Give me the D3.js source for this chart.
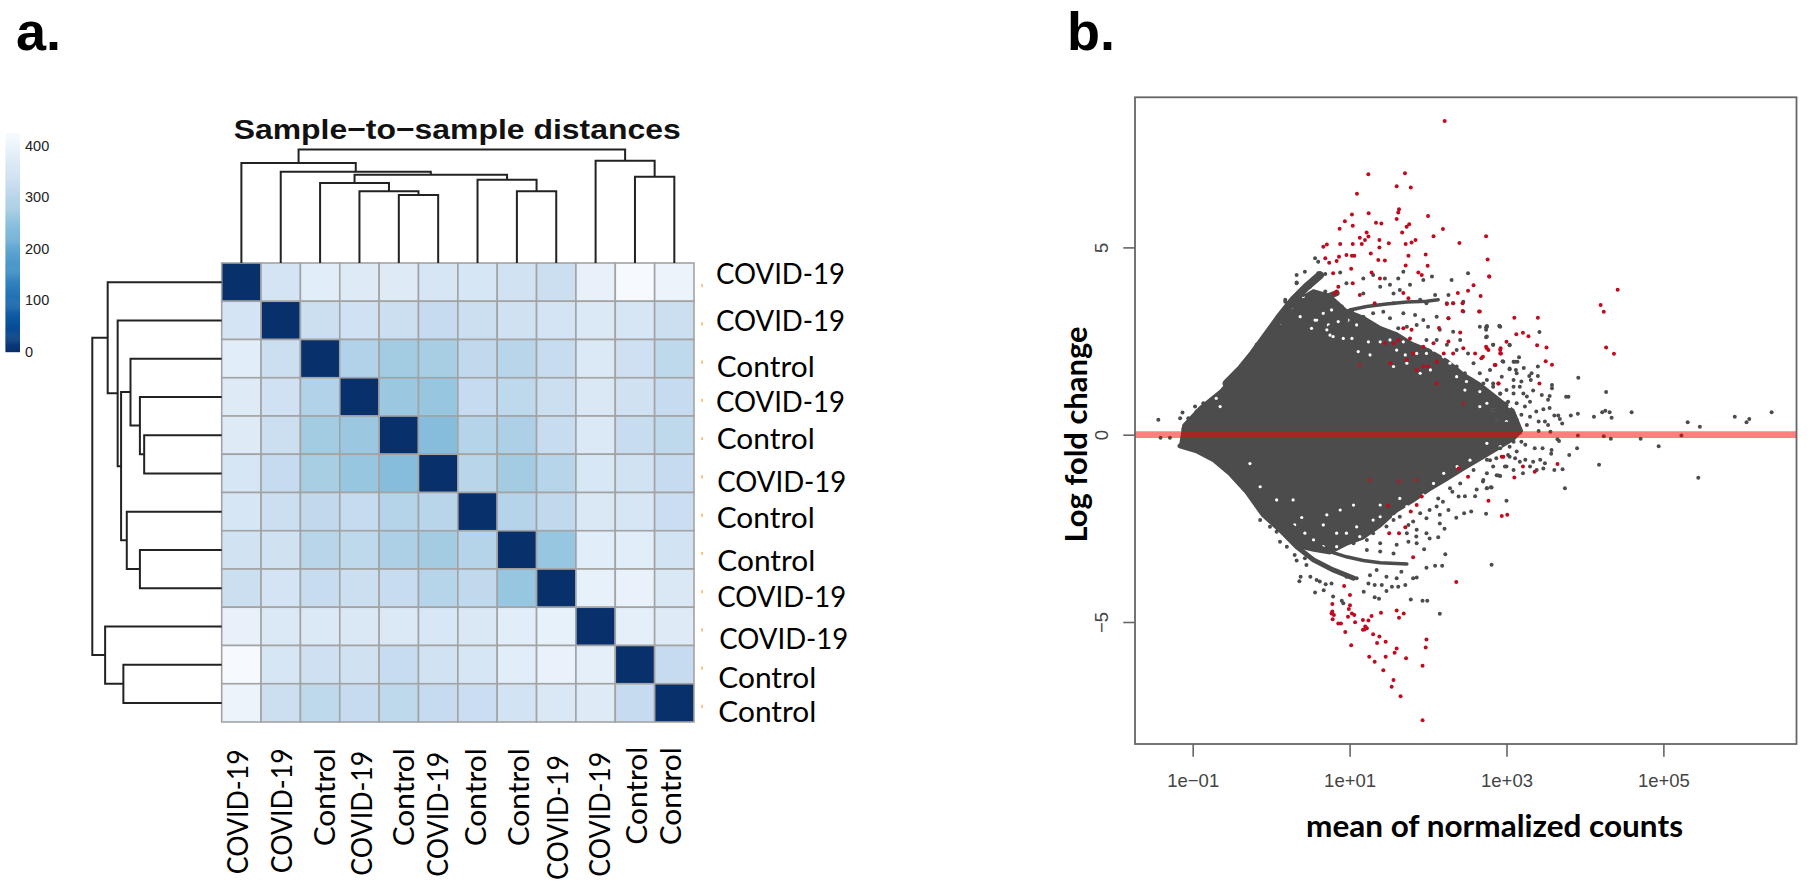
<!DOCTYPE html>
<html><head><meta charset="utf-8"><style>html,body{margin:0;background:#fff}svg{display:block}</style>
<script src="https://cdn.jsdelivr.net/npm/d3@7/dist/d3.min.js"></script></head><body><svg id="c" width="1810" height="889"></svg>
<script>
// ---------- Panel a data ----------
const title = "Sample\u2212to\u2212sample distances";
const colLabels = ["COVID-19","COVID-19","Control","COVID-19","Control","COVID-19","Control","Control","COVID-19","COVID-19","Control","Control"];
const rowLabels = colLabels;
const legendTicks = [0,100,200,300,400];
const legendMax = 424;
const blues = ["#08306B","#08519C","#2171B5","#4292C6","#6BAED6","#9ECAE1","#C6DBEF","#DEEBF7","#F7FBFF"];
const distances = [
[0,348,378,370,372,355,355,342,330,392,422,398],
[348,0,330,338,332,318,332,340,348,365,355,330],
[378,330,0,290,270,278,312,300,320,365,335,308],
[370,338,290,0,262,258,318,308,332,362,340,318],
[372,332,270,262,0,240,295,285,322,365,322,308],
[355,318,278,258,240,0,300,272,298,358,342,318],
[355,332,312,318,295,300,0,295,312,362,355,328],
[342,340,300,308,285,272,295,0,258,378,378,345],
[330,348,320,332,322,298,312,258,0,390,395,362],
[392,365,365,362,365,358,362,378,390,0,385,372],
[422,355,335,340,322,342,355,378,395,385,0,318],
[398,330,308,318,308,318,328,345,362,372,318,0]];
// dendrogram: [height, childA, childB]; a bare number is a leaf index
const dendro = [454,
  [400, 0, [365, 1, [353,
     [320, 2, [287, 3, [272, 4, 5]]],
     [333, 6, [287, 7, 8]]]]],
  [409, 9, [345, 10, 11]]];

// ---------- Panel b data (log10 mean, log fold change) ----------
const xTickValues = [0.1,10,1000,100000];
const xTickLabels = ["1e\u221201","1e+01","1e+03","1e+05"];
const yTickValues = [-5,0,5];
// outer edge of the overplotted grey mass
const massOutline = [[-1.12,.26],[-.906,.74],[-.65,1.17],[-.397,1.78],[-.18,2.34],[.024,2.98],[.113,3.11],[.325,3.6],[.54,3.86],[.75,3.73],[.96,3.33],[1.175,3.15],[1.39,2.88],[1.6,2.71],[1.81,2.44],[2.025,2.26],[2.24,2],[2.45,1.64],[2.66,1.37],[2.875,1.02],[3.09,.66],[3.2,.1],
[3.09,-.14],[2.875,-.41],[2.66,-.68],[2.45,-.94],[2.24,-1.21],[2.025,-1.48],[1.81,-1.79],[1.6,-2.055],[1.39,-2.455],[1.175,-2.77],[.96,-2.94],[.75,-3.17],[.54,-3.1],[.325,-2.99],[.113,-2.54],[-.1,-2.14],[-.312,-1.52],[-.525,-1.03],[-.737,-.66],[-.95,-.43],[-1.162,-.3]];
// gaps seen inside the mass
const massGaps = [[.665,3.24],[.77,3.33],[.855,3.02],[.73,2.93],[.56,3.06],[.515,2.84],[.98,3.06],[1.09,2.93],[.75,2.66],[.92,2.57],[1.03,2.57],[1.11,2.22],[1.26,2.13],[1.24,2.48],[1.39,2.48],[1.515,2.53],[1.685,2.48],[1.6,2.26],[1.71,2.13],[1.855,2.17],[1.98,2.17],[2.07,2.26],[1.9,2.48],[1.56,1.82],[1.73,1.91],[1.9,1.64],[2.03,1.73],[2.195,2.08],[2.28,1.91],[2.365,1.55],[2.49,1.42],[2.66,1.15],[2.83,.66],[3.04,.75],[2.75,.84],[2.875,.39],[3,.35],[2.66,.75],[2.47,1.19],
[.58,3.06],[.71,2.8],[.79,2.62],[.54,3.51],[.41,3.69],[.28,3.33],[.37,3.15],[.11,2.97],[-.14,2.35],[-.65,.75],[-.7,.97],
[.39,-2.21],[.3,-2.41],[.43,-2.63],[.54,-2.81],[.665,-2.99],[.835,-2.99],[.665,-2.41],[.835,-2.63],[.96,-2.63],[1.13,-2.72],[1.09,-2.46],[1.3,-2.28],[1.39,-2.19],[1.47,-2.55],[1.56,-2.19],[1.73,-1.92],[1.64,-1.7],[1.94,-1.61],[2.07,-1.3],[2.2,-1.03],[2.37,-.85],[2.535,-.68],[2.75,-.23],[2.92,-.32],[.88,-2.01],[1.05,-1.88],[.71,-2.14],[.28,-1.74],[.07,-1.74],[-.14,-1.39],[-.27,-.77],[1.39,-1.88]];
const ridgeUpperOuter = [[-.567,1.37],[-.397,1.73],[-.227,2.17],[-.057,2.66],[.113,3.15],[.283,3.6],[.453,3.95],[.623,4.26]];
const ridgeUpperInner = [[.028,2.89],[.24,3.24],[.453,3.46],[.665,3.64],[.835,3.78]];
const ridgeUpperLong = [[.79,3.06],[1.005,3.33],[1.217,3.42],[1.47,3.49],[1.73,3.54],[1.98,3.56],[2.13,3.6]];
const ridgeLowerLong = [[.283,-2.455],[.45,-2.81],[.62,-2.99],[.75,-3.12],[.96,-3.26],[1.175,-3.36],[1.39,-3.42],[1.73,-3.45]];
const ridgeLowerOuter = [[-1.162,-.3],[-.95,-.43],[-.737,-.66],[-.525,-1.03],[-.312,-1.52],[-.1,-2.14],[.113,-2.54],[.325,-2.99],[.54,-3.345],[.79,-3.61],[1.05,-3.83]];
const grayPoints = [
[3.915,1.52],[4.27,1.14],[3.76,1.01],[3.79,1.01],[3.82,.51],[3.91,.56],[4.115,.48],[4.22,.6],[4.26,.64],[4.315,.6],[4.34,.45],[4.595,.6],[5.31,.33],[5.465,.215],[5.91,.48],[6.06,.33],[6.095,.42],[6.38,.6],[3.91,-.02],[4.24,-.04],[4.33,-.11],[4.71,-.105],[4.94,-.31],[5.23,-.02],[3.9,-.36],[3.8,-.54],[4.18,-.8],[3.715,-.92],[5.445,-1.15],[3.745,-1.43],
[2.91,2.9],[3.42,2.74],[2.74,2.87],[2.74,2.8],[2.74,2.6],[2.83,2.4],[3.04,2.39],[3.16,2.07],[3.09,1.95],[3.14,1.95],[2.95,1.96],[3.22,1.78],[3.4,1.82],[3.04,1.75],[3.12,1.73],[3.4,1.57],[3.32,1.64],[3.29,1.57],[3.31,1.46],[3.58,1.33],[3.58,1.24],[3.09,1.46],[3.19,1.42],[3.55,1.03],[3.53,.93],[3.45,1.06],[3.34,1.18],[3.55,.71],[3.47,.68],[3.38,.62],[3.26,1.02],[3.61,.51],[3.66,.51],[3.68,.42],[3.71,.3],[3.49,.35],[3.53,.26],[3.56,.08],[3.41,.1],[3.65,-.12],[3.67,-.17],[3.575,-.41],[3.57,-.51],[3.46,-.36],[3.36,-.36],[3.24,-.27],[3.61,-.94],
[3.49,-.76],[3.43,-.67],[3.34,-.72],[3.3,-.85],[3.24,-.67],[3.17,-.72],[3.11,-.63],[3.04,-.59],[3.47,-.9],[3.385,-.94],[3.09,-.94],[3,-.85],[2.92,-1.1],[3.21,-1.03],
[.325,4.26],[.43,4.35],[.69,4.29],[.6,4.31],[.88,4.33],[.54,4.09],[.325,4.04],[.495,3.95],[.69,3.82],[.41,3.73],[.28,3.51],[.18,3.55],[.54,3.55],[.75,3.55],[.96,4.04],[1.175,4.17],[1.3,4.26],[1.45,4.17],[1.62,4.17],[1.515,4],[1.685,4.35],[1.77,4],[1.94,4.13],[2.05,4.22],[2.3,4.13],[2.51,4.31],[2.26,3.73],[2.09,3.73],[2.24,3.51],[2.32,3.51],[2.45,3.55],[2.26,3.11],[2.11,3.15],[2.45,3.29],[2.66,2.885],[2.75,2.885],[2.75,2.62],[2.92,2.885],[2.83,2.4],[3.04,2.4],[2.96,1.95],[3.11,1.95],[3.04,1.77],[2.94,1.55],[3.13,1.64],
[1.175,3.77],[1.39,3.95],[1.56,3.77],[1.64,3.86],[1.9,3.6],[1.98,3.51],[1.56,3.51],[1.43,3.285],[1.3,3.24],[1.175,3.15],[1.03,3.29],[.9,3.42],[.835,3.285],[.71,3.24],[.58,3.15],[.47,3.06],[.96,3.06],[1.13,2.93],[1.26,2.97],[1.39,2.84],[1.515,3.11],[1.685,3.24],[1.835,3.195],[1.94,3.06],[2,2.885],[2.15,2.8],[2.32,2.75],[2.41,2.53],[1.855,2.93],[1.73,2.885],[1.62,2.84],[1.47,2.66],[1.345,2.57],[1.175,2.71],[1.03,2.75],[.9,2.885],[.75,2.885],[.62,2.84],[1.98,2.53],[2.11,2.53],[2.24,2.4],[2.365,2.26],[2.51,2.17],[2.58,1.91],[2.66,1.64],[2.79,1.73],[2.365,1.82],[2.47,1.64],[2.56,1.46],[2.705,1.37],[2.83,1.37],[2.92,1.1],[3.09,1.28],[3,.84],[2.83,.93],[2.66,1.02],[2.75,.57],[2.92,.48],[3.04,.57],[3.13,.39],[2.58,1.19],[2.49,.97],[2.535,.66],[2.66,.3],[2.83,.215],[3,.215],[1.9,2.26],[2.03,1.99],[2.15,1.82],[2.28,1.64],[1.81,1.99],[1.64,1.82],[1.56,2.17],[1.43,2.04],[1.345,2.26],[1.22,2.08],[1.09,2.48],[.96,2.62],[.835,2.71],[.665,2.66],
[2.75,1.46],[2.83,1.28],[2.92,1.09],[3,1.19],[3.09,1.1],[3.17,1.28],[3.215,1.1],[2.92,.84],[3.02,.88],[3.13,.84],[3.235,.75],[3.3,.88],[2.83,.66],[2.96,.57],[3.09,.57],[3.19,.53],[3.3,.48],[2.875,.39],[3,.3],[3.13,.35],[3.26,.26],[3.41,.35],[2.92,.17],[3.07,.13],[3.17,.05],[2.83,-.14],[2.96,-.1],[3.09,-.19],[3.19,-.19],[2.79,-.41],[2.92,-.36],[3.04,-.32],[3.13,-.45],[2.75,-.67],[2.87,-.63],[2.83,-.85],[2.75,-1.03],[2.875,-1.08],[2.705,-1.21],[2.8,-1.4],[2.75,-1.43],
[-1.438,.4],[-1.41,-.08],[-1.29,-.08],[-1.16,.44],[-1.13,.59],[-1.056,.44],[-.99,.44],[-1.12,.15],[-1.056,.15],[-.97,.75],[-.95,.62],[-.865,.84],[-.82,.66],[-.99,-.05],[-.95,-.02],[-.91,.22],[-.82,.3],[-.546,1.46],[-.44,1.69],[-.355,1.91],[-.185,2.4],[-.12,2.31],[.18,3.6],[.325,4.06],[.56,4.71],[.6,4.62],[2.75,2.9],[2.91,2.9],
[2.81,-3.47],[2.15,-4.78],[1.78,-4.4],[1.93,-4.43],[1.99,-4.43],[1.32,-4.34],[1.375,-4.38],[2.09,-3.5],[2.18,-3.5],[1.98,-3.55],[1.81,-3.83],[1.855,-3.81],[2.22,-3.19],[2.21,-2.51],[2.15,-2.37],[2.13,-2.74],[2.02,-2.77],[1.98,-2.63],[1.95,-3.06],[1.855,-2.9],[1.85,-2.72],[1.75,-2.86],[1.855,-2.54],[1.98,-2.23],[2.15,-2.14],[2.36,-2.22],[2.46,-2.1],[2.55,-2.05],[2.74,-2.11],[3,-1.76],[2.26,-2.01],[2.6,-1.64],[2.47,-1.64],[2.75,-1.43],[2.81,-1.41],[2.62,-1.46],[2.39,-1.65],[2.28,-1.43],[2.13,-1.7],[2.9,-1.09],[2.7,-1.25],
[.376,-3.79],[.36,-3.91],[.5,-3.79],[.58,-3.88],[.62,-3.92],[.56,-4.21],[.67,-4.15],[.695,-3.99],[.77,-3.97],[.79,-4.32],[.92,-4.5],[.9,-4.43],[1.18,-4.19],[1.41,-4.01],[1.47,-4.17],[1.54,-4.06],[1.62,-4.06],[1.71,-4.01],[1.32,-4.01],[1.24,-3.97],[.96,-3.79],[1.09,-3.83],[1.26,-3.75],[1.47,-3.79],[1.6,-3.83],[1.66,-3.66],[1.345,-3.61],[.325,-3.36],[.45,-3.48],[.2,-2.99],[.113,-2.86],[-.015,-2.455],[-.14,-2.28],[.07,-2.59],[.3,-3.21],[.43,-3.3],
[1.22,-2.81],[1.39,-2.9],[1.05,-2.9],[.88,-2.72],[.71,-2.63],[1.13,-2.54],[1.3,-2.63],[1.47,-2.45],[1.6,-2.94],[1.56,-3.17],[1.39,-3.12],[1.22,-3.08],[1.73,-2.63],[1.75,-2.41],[1.64,-2.19],[1.56,-2.28],[1.47,-2.1],[1.39,-1.97],[1.81,-2.32],[1.9,-2.1],[2.02,-2.01],[2.11,-1.92],[2.19,-1.79],[2.31,-1.52],[2.41,-1.3],[2.58,-.94],[2.79,-.68],[2.98,-.85],[3.02,-.54]];
const redPoints = [
[4.417,3.87],[4.2,3.46],[4.24,3.28],[4.27,2.33],[4.37,2.16],[2.78,4.22],[3.1,3.12],[3.4,3.12],[3.125,2.68],[3.21,2.72],[3.28,2.63],[3,2.48],[3.39,2.39],[3.51,2.33],[3.5,1.96],[3.58,1.87],[2.925,2.31],[2.92,2.17],[2.74,2.35],[2.77,2.26],[2.86,1.86],[2.895,1.37],[3.42,1.37],[2.66,3.29],[2.68,2.04],[3.65,-.78],[3.21,-.85],[2.96,-.59],[3.1,-1.14],[3.36,-.99],
[2.212,8.375],[1.239,6.95],[1.706,6.98],[1.6,6.63],[1.78,6.6],[1.094,6.43],[1.63,6.02],[1.62,5.93],[1.6,5.76],[1.243,5.91],[1.03,5.875],[2,5.84],[.94,5.7],[1.04,5.58],[1.337,5.66],[1.405,5.64],[.873,5.5],[1.67,5.4],[1.727,5.55],[1.76,5.62],[2.19,5.49],[2.74,5.3],[1.24,5.29],[1.196,5.2],[1.155,5.09],[1.13,5.26],[1.217,5.4],[1.38,5.2],[1.38,5],[1.5,5.11],[1.715,5.09],[1.79,5.13],[1.84,5.2],[2.07,5.3],[2.4,5.12],[.665,5.02],[.71,5.08],[.88,5.09],[1.04,5.09],[.69,4.71],[.74,4.59],[.79,4.31],[.835,4.64],[.865,4.75],[.96,4.8],[1.03,4.78],[1.06,4.78],[1.27,4.84],[1.366,4.665],[1.45,4.65],[1.02,4.43],[1.75,4.78],[1.715,4.52],[1.97,4.81],[1.995,4.51],[2.76,4.68],[2.78,4.22],[1.876,4.33],[1.92,4.26],[1.28,4.33],[.856,3.95],[.835,3.82],[.81,3.76],[1.04,4.04],[1.387,4.17],[2.58,3.99],[2.51,3.84],[2.38,3.78],[2.67,3.7],[2.44,3.51],[2.44,3.3],[2.65,3.29],[2.32,3.51],[2.24,3.49],[1.13,3.73],[1.32,3.51],[1.685,3.78],[1.75,3.64],[2.26,3.11],[2.14,2.85],[2.41,2.73],[1.62,2.53],[1.685,2.84],[1.79,2.8],[1.77,2.57],[1.56,2.44],[1.94,2.35],[2.07,2.44],[2.26,2.49],[2.32,2.17],[2.45,2.31],[2.6,2.17],[2.75,2.31],[2.7,2.08],[2.92,2.26],[2.93,2.17],[2.85,1.86],[2.9,1.37],[1.81,2.17],[1.73,2],[1.52,1.91],[1.45,2.44],[2.11,1.95],[1.94,1.82],[1.855,1.73],[2,1.82],[2.2,2.17],[2.11,1.37],
[1.93,-7.62],[1.65,-6.98],[1.536,-6.73],[1.56,-6.55],[1.43,-6.29],[1.93,-6.17],[1.72,-5.97],[1.25,-5.93],[1.32,-6.06],[1.46,-5.93],[1.574,-5.82],[1.6,-5.71],[1.02,-5.62],[1.97,-5.68],[1.98,-5.47],[1.35,-5.56],[1.46,-5.53],[1.38,-5.39],[1.3,-5.33],[.945,-5.27],[1.19,-5.2],[1.22,-5.17],[1.17,-5.21],[1.2,-5.12],[.856,-5.04],[.89,-5.04],[.784,-4.93],[.77,-4.77],[.8,-4.81],[.78,-4.72],[1.07,-5.01],[1.17,-4.95],[1.24,-4.96],[1.28,-4.84],[.98,-4.86],[1.03,-4.77],[1.06,-4.81],[1.005,-4.55],[.99,-4.65],[.78,-4.52],[1.005,-4.28],[.93,-4.04],[1.4,-4.75],[1.6,-4.69],[1.69,-4.77],[1.63,-4.89],[2.36,-3.93],[1.81,-3.27],[2.77,-1.76],[2.94,-2.17],[3.01,-2.135],
[1.49,-1.9],[1.78,-2.05],[1.855,-1.88],[1.92,-1.65],[1.505,-2.63],[1.63,-2.63],[1.71,-2.47],[2.39,-.9],[2.51,-1.12],[2.94,-.59]];
const fadedRedPoints = [[1.13,1.86],[2.45,.84],[1.26,-1.21],[1.63,-1.25],[1.855,-1.21]];

// ---------- Layout ----------
const svg = d3.select("#c");
const heat = {l:221.7,r:694,t:263,b:722};
const rowLabelY = [274,320.7,366.7,402.3,439.3,481.7,518.3,560.7,596.7,639.3,678.3,711.7];
const rowLabelX = [716,716,716.7,716,716.7,717.3,716.7,717.3,717.3,719.3,718.3,718.3];
const colLabelX = [238.3,281.7,325,361.7,404.3,438.3,475.7,519,558.3,600,636.7,670.7];
const colLabelTop = [749.3,748.3,748.3,750.7,748.3,751.7,748.3,748.3,755,751.7,746.7,747.3];
const LATO = "Lato, 'Noto Sans', sans-serif", ARIAL = "'Liberation Sans', Arial, sans-serif";

svg.append("text").attr("x",16).attr("y",50).attr("font-family",ARIAL).attr("font-weight",700).attr("font-size",54).text("a.");
svg.append("text").attr("x",1067).attr("y",50).attr("font-family",ARIAL).attr("font-weight",700).attr("font-size",54).text("b.");

const color = d3.scaleLinear().domain(blues.map((_,i)=>i*legendMax/(blues.length-1))).range(blues);
const xB = d3.scaleBand().domain(d3.range(colLabels.length)).range([heat.l,heat.r]);
const yB = d3.scaleBand().domain(d3.range(rowLabels.length)).range([heat.t,heat.b]);
const g = svg.append("g");
distances.forEach((row,i)=>g.selectAll(null).data(row).join("rect")
  .attr("x",(_,j)=>xB(j)).attr("y",yB(i)).attr("width",xB.bandwidth()).attr("height",yB.bandwidth())
  .attr("fill",d=>color(d)).attr("stroke","#a3a3a3").attr("stroke-width",1.6));

const legY = d3.scaleLinear().domain([0,legendMax]).range([351.7,133]);
svg.append("g").selectAll("rect").data(d3.range(0,legendMax,2)).join("rect")
  .attr("x",5.5).attr("width",14.5).attr("y",d=>legY(d+2)).attr("height",Math.abs(legY(0)-legY(2))+.5).attr("fill",d=>color(d));
svg.append("g").selectAll("text").data(legendTicks).join("text")
  .attr("x",25).attr("y",d=>legY(d)).attr("dy","0.36em").attr("font-family",ARIAL).attr("font-size",14.5).attr("fill","#222").text(d=>d);

svg.append("text").attr("x",233.7).attr("y",139).attr("font-family",ARIAL).attr("font-weight",700).attr("font-size",28)
  .attr("textLength",447).attr("lengthAdjust","spacingAndGlyphs").attr("fill","#111").text(title);

const hTop = d3.scaleLinear().domain([0,dendro[0]]).range([heat.t,149.5]);
const hLeft = d3.scaleLinear().domain([0,dendro[0]]).range([heat.l,92.3]);
function layout(node,pos,out){
  if(typeof node==="number") return {p:pos(node),h:0};
  const a=layout(node[1],pos,out), b=layout(node[2],pos,out);
  out.push({a,b,h:node[0]});
  return {p:(a.p+b.p)/2,h:node[0]};
}
const linksTop=[]; layout(dendro,i=>xB(i)+xB.bandwidth()/2,linksTop);
const linksLeft=[]; layout(dendro,i=>yB(i)+yB.bandwidth()/2,linksLeft);
svg.append("g").selectAll("path").data(linksTop).join("path").attr("fill","none").attr("stroke","#222").attr("stroke-width",2)
  .attr("d",d=>`M${d.a.p},${hTop(d.a.h)}V${hTop(d.h)}H${d.b.p}V${hTop(d.b.h)}`);
svg.append("g").selectAll("path").data(linksLeft).join("path").attr("fill","none").attr("stroke","#222").attr("stroke-width",2)
  .attr("d",d=>`M${hLeft(d.a.h)},${d.a.p}H${hLeft(d.h)}V${d.b.p}H${hLeft(d.b.h)}`);

svg.append("g").selectAll("text").data(rowLabels).join("text")
  .attr("x",(_,i)=>rowLabelX[i]).attr("y",(_,i)=>rowLabelY[i]).attr("dy","0.36em").attr("font-family",LATO).attr("font-size",28)
  .attr("fill","#000").attr("textLength",d=>d==="Control"?98:129).attr("lengthAdjust","spacingAndGlyphs").text(d=>d);
svg.append("g").selectAll("text").data(colLabels).join("text")
  .attr("transform",(_,i)=>`translate(${colLabelX[i]},${colLabelTop[i]}) rotate(-90)`).attr("text-anchor","end").attr("dy","0.36em")
  .attr("font-family",LATO).attr("font-size",28).attr("fill","#000").attr("textLength",d=>d==="Control"?98:125).attr("lengthAdjust","spacingAndGlyphs").text(d=>d);
svg.append("g").selectAll("rect").data(rowLabels).join("rect")
  .attr("x",701.5).attr("y",(_,i)=>yB(i)+yB.bandwidth()/2+2).attr("width",1.2).attr("height",3).attr("fill","#f39a2e");

// ---------- Panel b ----------
const plot = {l:1135,r:1796.5,t:97.3,b:744};
const x = d3.scaleLog().domain([Math.pow(10,-1.7355),Math.pow(10,6.697)]).range([plot.l,plot.r]);
const y = d3.scaleLinear().domain([-8.257,9.007]).range([plot.b,plot.t]);
const px = d=>x(Math.pow(10,d[0])), py = d=>y(d[1]);
const GRAY="#4c4c4c";
const line = d3.line().x(px).y(py);
const pg = svg.append("g");
pg.append("path").attr("d",line(massOutline)+"Z").attr("fill",GRAY).attr("stroke",GRAY).attr("stroke-width",2).attr("stroke-linejoin","round");
pg.append("g").selectAll("circle").data(massGaps).join("circle").attr("cx",px).attr("cy",py).attr("r",1.6).attr("fill","#fff");
[[ridgeUpperOuter,8],[ridgeUpperInner,6],[ridgeUpperLong,3.5],[ridgeLowerLong,3.5],[ridgeLowerOuter,5]].forEach(([r,w])=>
  pg.append("path").attr("d",line(r)).attr("fill","none").attr("stroke",GRAY).attr("stroke-width",w).attr("stroke-linecap","round"));
pg.append("g").selectAll("circle").data(grayPoints).join("circle").attr("cx",px).attr("cy",py).attr("r",2).attr("fill",GRAY);
pg.append("g").selectAll("circle").data(fadedRedPoints).join("circle").attr("cx",px).attr("cy",py).attr("r",2.2).attr("fill","#8e2a30");
pg.append("g").selectAll("circle").data(redPoints).join("circle").attr("cx",px).attr("cy",py).attr("r",2).attr("fill","#c20a1e");
pg.append("line").attr("x1",plot.l).attr("x2",plot.r).attr("y1",y(0)).attr("y2",y(0)).attr("stroke","#ff0000").attr("stroke-opacity",.5).attr("stroke-width",6.7);
pg.append("rect").attr("x",plot.l).attr("y",plot.t).attr("width",plot.r-plot.l).attr("height",plot.b-plot.t).attr("fill","none").attr("stroke","#666").attr("stroke-width",1.8);

const axB = svg.append("g").attr("transform",`translate(0,${plot.b})`).call(d3.axisBottom(x).tickValues(xTickValues).tickSize(12.7).tickPadding(17).tickFormat((_,i)=>xTickLabels[i]));
axB.select(".domain").remove();
axB.selectAll("line").attr("stroke","#666").attr("stroke-width",1.6);
axB.selectAll("text").attr("font-family",ARIAL).attr("font-size",18.5).attr("fill","#444");
const axL = svg.append("g").attr("transform",`translate(${plot.l},0)`).call(d3.axisLeft(y).tickValues(yTickValues).tickSize(11.7).tickFormat(d3.format("d")));
axL.select(".domain").remove();
axL.selectAll("line").attr("stroke","#666").attr("stroke-width",1.6);
axL.selectAll("text").attr("font-family",ARIAL).attr("font-size",18.5).attr("fill","#444").attr("text-anchor","middle").attr("dy",0)
  .attr("x",null).attr("transform","translate(-27,0) rotate(-90)");

svg.append("text").attr("transform","translate(1087,434.5) rotate(-90)").attr("text-anchor","middle").attr("font-family",LATO).attr("font-weight",700).attr("font-size",31)
  .attr("textLength",216).attr("lengthAdjust","spacingAndGlyphs").text("Log fold change");
svg.append("text").attr("x",1494.5).attr("y",836.7).attr("text-anchor","middle").attr("font-family",LATO).attr("font-weight",700).attr("font-size",31)
  .attr("textLength",377).attr("lengthAdjust","spacingAndGlyphs").text("mean of normalized counts");
</script></body></html>
